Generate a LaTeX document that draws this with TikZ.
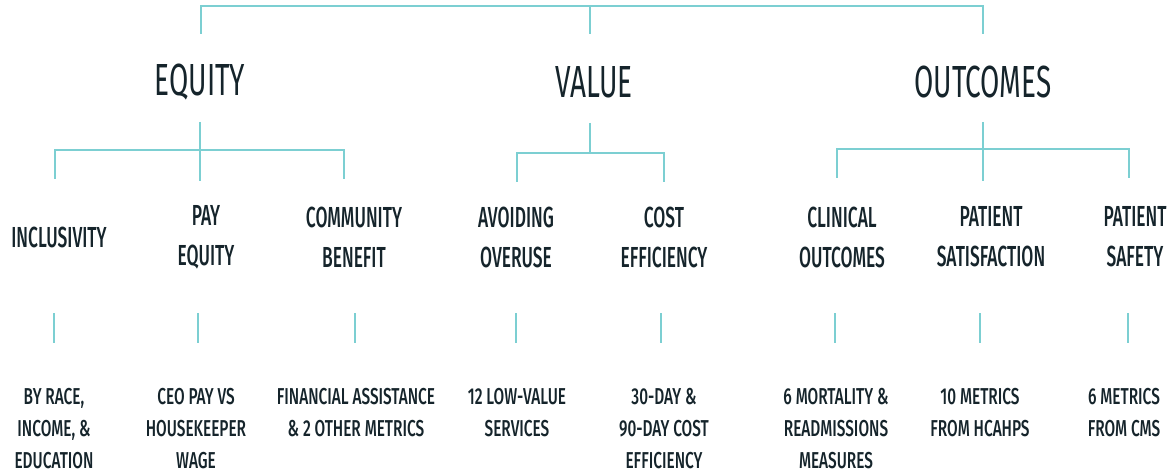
\documentclass[tikz,border=0pt]{standalone}
\usepackage{fontspec}
\setmainfont{Fira Sans}[FakeStretch=0.6, UprightFont=* Medium]
\newfontfamily\headfont{Fira Sans}[FakeStretch=0.62]
\newfontfamily\leaffont{Fira Sans}[FakeStretch=0.67, UprightFont=* Medium]
\definecolor{linkteal}{HTML}{7CCFD2}
\definecolor{inkdark}{HTML}{15242B}
\begin{document}
\begin{tikzpicture}[x=1pt,y=-1pt,
  link/.style={draw=linkteal,line width=2.6pt},
  head/.style={text=inkdark,inner sep=0pt,font=\headfont\fontsize{45}{50}\selectfont},
  sub/.style={text=inkdark,inner sep=0pt,align=center,font=\fontsize{29}{40}\selectfont},
  leaf/.style={text=inkdark,inner sep=0pt,align=center,anchor=north,font=\leaffont\fontsize{23}{32}\selectfont}]
\useasboundingbox (0,0) rectangle (1176,473);

% pillars
\node[head] (equity)   at (200,82) {EQUITY};
\node[head] (value)    at (594,82) {VALUE};
\node[head] (outcomes) at (983,82) {OUTCOMES};

% top bracket joining the three pillars
\coordinate (eqUp) at (201,34);
\coordinate (vaUp) at (590,34);
\coordinate (ouUp) at (983,34);
\draw[link] (eqUp) -- (eqUp |- 0,6) -- (ouUp |- 0,6) -- (ouUp);
\draw[link] (vaUp) -- (vaUp |- 0,6);

% measures
\node[sub] (incl)  at (59,237)   {INCLUSIVITY};
\node[sub] (pay)   at (206,237)  {PAY\\EQUITY};
\node[sub] (comm)  at (354,237)  {COMMUNITY\\BENEFIT};
\node[sub] (avoid) at (516,237)  {AVOIDING\\OVERUSE};
\node[sub] (cost)  at (664,237)  {COST\\EFFICIENCY};
\node[sub] (clin)  at (842,237)  {CLINICAL\\OUTCOMES};
\node[sub] (sat)   at (991,237)  {PATIENT\\SATISFACTION};
\node[sub] (safe)  at (1135,237) {PATIENT\\SAFETY};

% equity bracket
\coordinate (eqDn) at (200,122);
\coordinate (eqL) at (55,179);
\coordinate (eqM) at (200,181);
\coordinate (eqR) at (344,179);
\draw[link] (eqDn) -- (eqM);
\draw[link] (eqL) -- (eqL |- 0,150) -- (eqR |- 0,150) -- (eqR);

% value bracket
\coordinate (vaDn) at (590,123);
\coordinate (vaL) at (517,182);
\coordinate (vaR) at (664,182);
\draw[link] (vaDn) -- (vaDn |- 0,153);
\draw[link] (vaL) -- (vaL |- 0,153) -- (vaR |- 0,153) -- (vaR);

% outcomes bracket
\coordinate (ouDn) at (983,122);
\coordinate (ouL) at (837,178);
\coordinate (ouM) at (983,181);
\coordinate (ouR) at (1129,178);
\draw[link] (ouDn) -- (ouM);
\draw[link] (ouL) -- (ouL |- 0,149) -- (ouR |- 0,149) -- (ouR);

% metric details
\node[leaf] (inclM)  at (54,388)   {BY RACE,\\INCOME, \&\\EDUCATION};
\node[leaf] (payM)   at (196,388)  {CEO PAY VS\\HOUSEKEEPER\\WAGE};
\node[leaf] (commM)  at (356,388)  {FINANCIAL ASSISTANCE\\\& 2 OTHER METRICS};
\node[leaf] (avoidM) at (517,388)  {12 LOW-VALUE\\SERVICES};
\node[leaf] (costM)  at (664,388)  {30-DAY \&\\90-DAY COST\\EFFICIENCY};
\node[leaf] (clinM)  at (836,388)  {6 MORTALITY \&\\READMISSIONS\\MEASURES};
\node[leaf] (satM)   at (980,388)  {10 METRICS\\FROM HCAHPS};
\node[leaf] (safeM)  at (1124,388) {6 METRICS\\FROM CMS};

% stubs between measures and details
\foreach \n/\x in {incl/54,pay/198,comm/355,avoid/516,cost/661,clin/835,sat/980,safe/1128}{
  \coordinate (\n S) at (\x,313);
  \draw[link] (\n S) -- (\n S |- 0,343);
}
\end{tikzpicture}
\end{document}
